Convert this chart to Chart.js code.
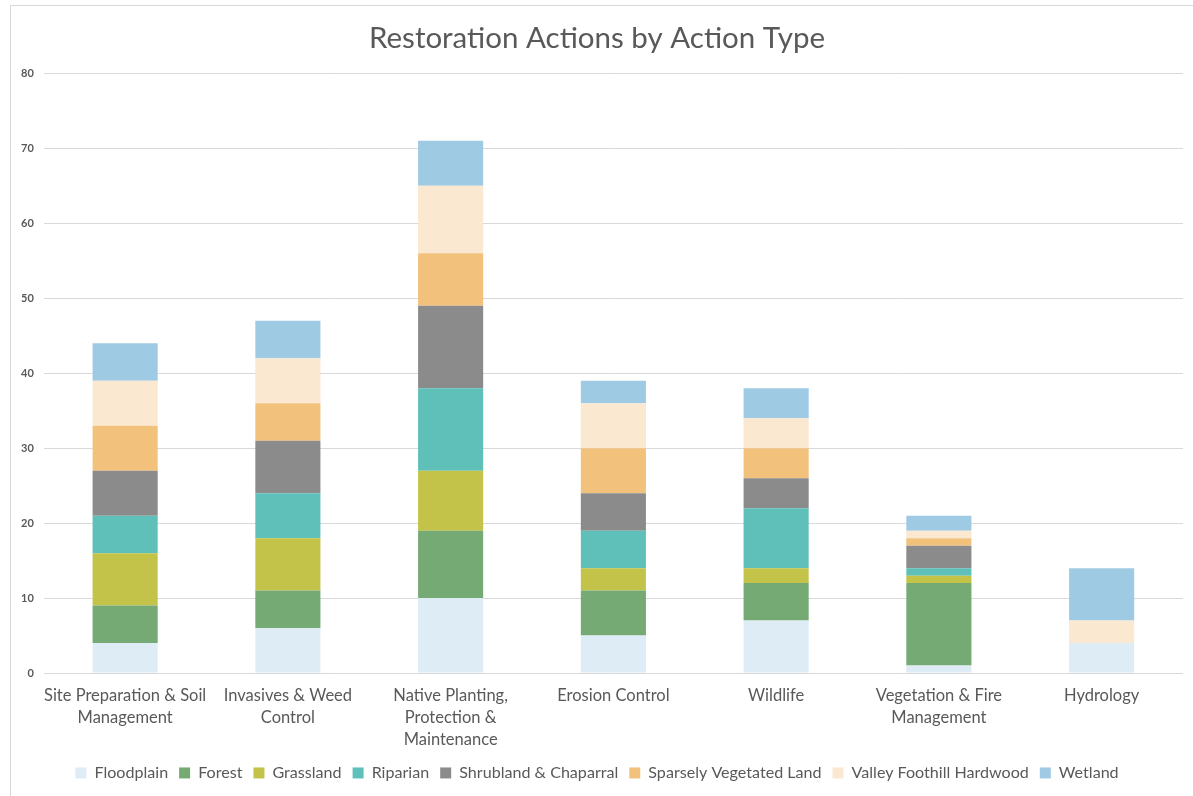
<!DOCTYPE html>
<html>
<head>
<meta charset="utf-8">
<script src="https://cdn.jsdelivr.net/npm/chart.js@4/dist/chart.umd.min.js"></script>
<style>
	body { margin: 0; background: #fff; }
	#wrap {
		position: absolute;
		left: 10px;
		top: 5px;
		width: 1183px;
		height: 791px;
		border-left: 1px solid #d9d9d9;
		border-top: 1px solid #d9d9d9;
	}
</style>
</head>
<body>
<div id="wrap"><canvas id="restoration-chart"></canvas></div>
<script>
// categories (x axis), each one split into lines
const action_Types = [
	["Site Preparation & Soil", "Management"],
	["Invasives & Weed", "Control"],
	["Native Planting,", "Protection &", "Maintenance"],
	"Erosion Control",
	"Wildlife",
	["Vegetation & Fire", "Management"],
	"Hydrology",
];

// one array per habitat, in category order
const floodplain = [4, 6, 10, 5, 7, 1, 4];
const forest = [5, 5, 9, 6, 5, 11, 0];
const grassland = [7, 7, 8, 3, 2, 1, 0];
const riparian = [5, 6, 11, 5, 8, 1, 0];
const shrubland = [6, 7, 11, 5, 4, 3, 0];
const sparsely_Vegetated = [6, 5, 7, 6, 4, 1, 0];
const valley_Foothill = [6, 6, 9, 6, 4, 1, 3];
const wetland = [5, 5, 6, 3, 4, 2, 7];

const y_Ticks = [0, 10, 20, 30, 40, 50, 60, 70, 80];

const series = [
	["Floodplain", floodplain, "#deecf6"],
	["Forest", forest, "#75aa74"],
	["Grassland", grassland, "#c3c34a"],
	["Riparian", riparian, "#5fbfb9"],
	["Shrubland & Chaparral", shrubland, "#8b8b8b"],
	["Sparsely Vegetated Land", sparsely_Vegetated, "#f2c27c"],
	["Valley Foothill Hardwood", valley_Foothill, "#fbe8d0"],
	["Wetland", wetland, "#9fcae4"],
];

const text_Color = "#595959";

let ctx = document.getElementById("restoration-chart").getContext("2d");

new Chart(ctx, {
	type: "bar",
	data: {
		labels: action_Types,
		datasets: series.map(([label, data, color]) => ({
			label: label,
			data: data,
			backgroundColor: color,
			borderWidth: 0,
			barPercentage: 0.4,
			categoryPercentage: 1,
		})),
	},
	options: {
		responsive: true,
		maintainAspectRatio: false,
		animation: false,
		layout: {
			padding: { left: 0, right: 11, top: 0, bottom: 6 },
		},
		plugins: {
			title: {
				display: true,
				text: "Restoration Actions by Action Type",
				color: text_Color,
				font: { family: "Lato", size: 29.5, weight: "normal" },
				padding: { top: 15, bottom: 17 },
			},
			legend: {
				position: "bottom",
				labels: {
					color: text_Color,
					font: { family: "Lato", size: 16.1 },
					boxWidth: 11,
					boxHeight: 11,
					padding: 11,
				},
			},
			tooltip: { enabled: false },
		},
		scales: {
			x: {
				stacked: true,
				grid: { display: false },
				border: { display: false },
				ticks: {
					color: text_Color,
					font: { family: "Lato", size: 16.5, lineHeight: 1.35 },
					maxRotation: 0,
					autoSkip: false,
					padding: 3,
				},
			},
			y: {
				stacked: true,
				min: 0,
				max: 80,
				afterBuildTicks: (axis) => {
					axis.ticks = y_Ticks.map((v) => ({ value: v }));
				},
				grid: { color: "#d9d9d9", lineWidth: 1, drawTicks: false },
				border: { display: false },
				ticks: {
					color: text_Color,
					font: { family: "Lato", size: 11, weight: "bold" },
					padding: 10,
				},
			},
		},
	},
});
</script>
</body>
</html>
